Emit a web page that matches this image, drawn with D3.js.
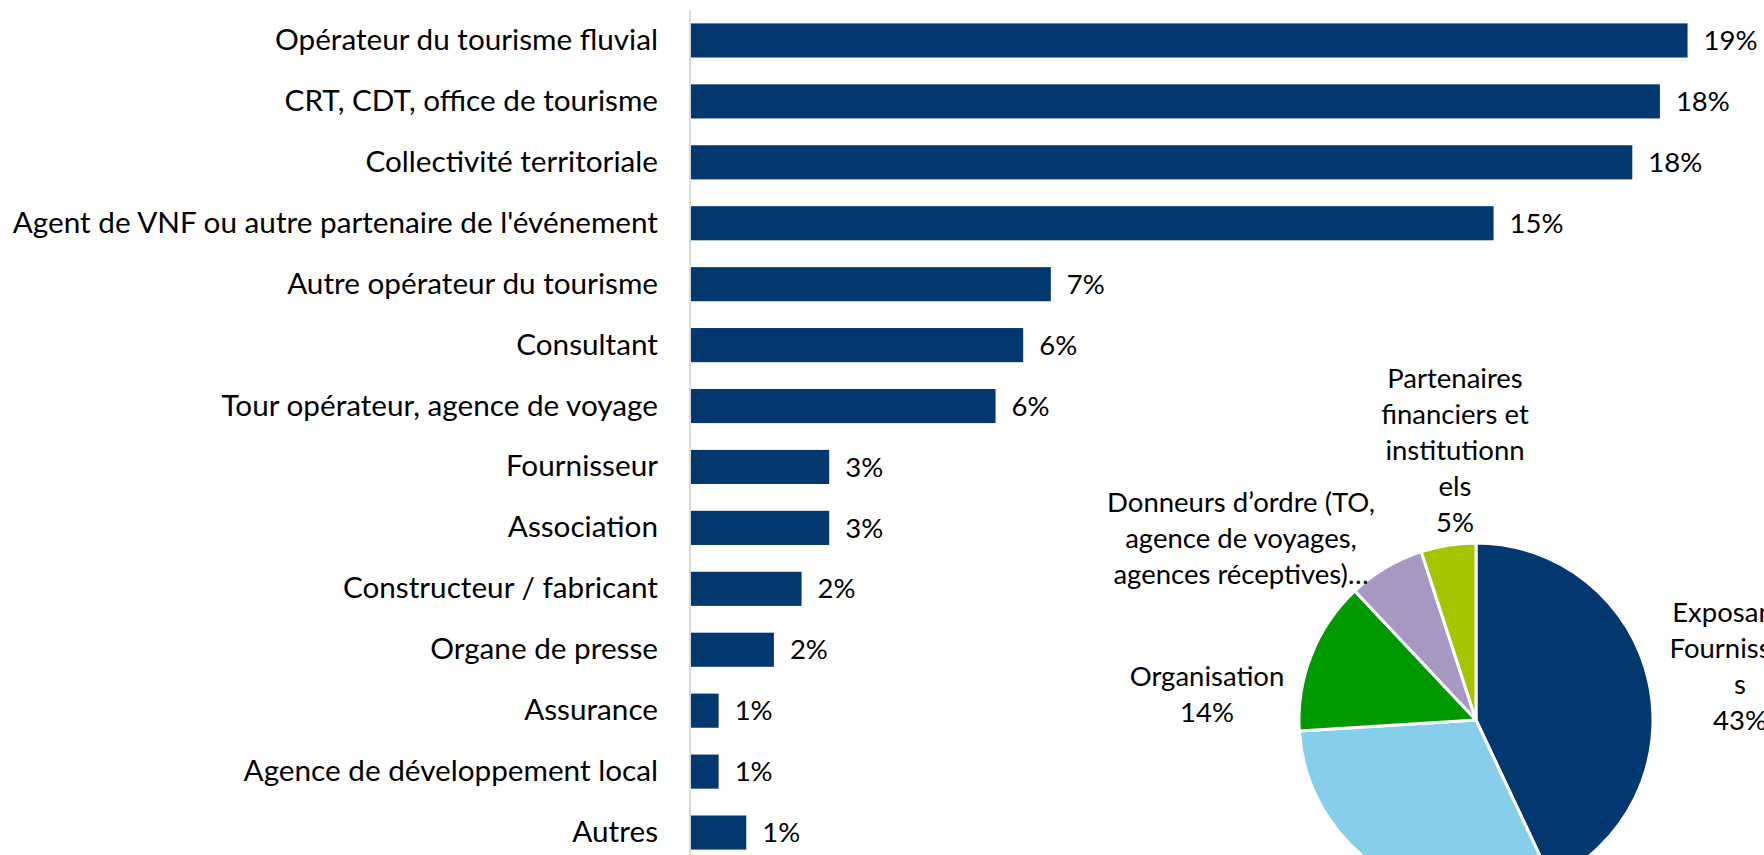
<!DOCTYPE html>
<html>
<head>
<meta charset="utf-8">
<script src="https://cdn.jsdelivr.net/npm/d3@7/dist/d3.min.js"></script>
<style>
  body { margin: 0; background: #fff; }
  svg { display: block; }
  text { font-family: Lato, "Open Sans", sans-serif; fill: #000; }
</style>
</head>
<body>
<svg id="chart" width="1764" height="855"></svg>
<script>
// Profil des répondants (barres) + répartition par type (camembert)

const barCategories = [
  "Opérateur du tourisme fluvial",
  "CRT, CDT, office de tourisme",
  "Collectivité territoriale",
  "Agent de VNF ou autre partenaire de l'événement",
  "Autre opérateur du tourisme",
  "Consultant",
  "Tour opérateur, agence de voyage",
  "Fournisseur",
  "Association",
  "Constructeur / fabricant",
  "Organe de presse",
  "Assurance",
  "Agence de développement local",
  "Autres"
];
const barValues = [18.75, 18.23, 17.71, 15.10, 6.77, 6.25, 5.73, 2.60, 2.60, 2.08, 1.56, 0.52, 0.52, 1.04];

const pieCategories = [
  "Exposants/Fournisseurs",
  "Visiteurs",
  "Organisation",
  "Donneurs d’ordre (TO, agence de voyages, agences réceptives)…",
  "Partenaires financiers et institutionnels"
];
const pieValues = [43, 31, 14, 7, 5];
const pieColors = ["#03376f", "#87ceeb", "#009900", "#a898c4", "#a6c400"];
// label text as wrapped in the original (null = label outside the frame)
const pieLabelLines = [
  ["Exposants/", "Fournisseur", "s", "43%"],
  null,
  ["Organisation", "14%"],
  ["Donneurs d’ordre (TO,", "agence de voyages,", "agences réceptives)…"],
  ["Partenaires", "financiers et", "institutionn", "els", "5%"]
];

const CAT_FONT = 29.7;
const FONT = 27.5;
const svg = d3.select("#chart");

// ---- bar chart ----
const x = d3.scaleLinear().domain([0, 20]).range([691, 1754]);
const y = d3.scaleBand()
  .domain(barCategories)
  .range([10, 863])
  .paddingInner(0.44)
  .paddingOuter(0.22);

svg.append("g")
  .selectAll("rect")
  .data(barValues)
  .join("rect")
  .attr("x", x(0))
  .attr("y", (d, i) => y(barCategories[i]))
  .attr("width", d => x(d) - x(0))
  .attr("height", y.bandwidth())
  .attr("fill", "#03376f");

const yAxis = svg.append("g")
  .attr("transform", "translate(690,0)")
  .call(d3.axisLeft(y).tickSize(0).tickPadding(32));
yAxis.select(".domain")
  .attr("stroke", "#d9d9d9")
  .attr("stroke-width", 2)
  .attr("d", "M0,10V855");
yAxis.selectAll("text")
  .style("font-size", CAT_FONT + "px")
  .style("font-family", "Lato, sans-serif")
  .attr("fill", "#000");

svg.append("g")
  .selectAll("text")
  .data(barValues)
  .join("text")
  .attr("x", d => x(d) + 16)
  .attr("y", (d, i) => y(barCategories[i]) + y.bandwidth() / 2)
  .attr("dy", "0.35em")
  .style("font-size", FONT + "px")
  .text(d => d3.format(".0f")(d) + "%");

// ---- pie ----
const cx = 1476, cy = 720, r = 177;
const pie = d3.pie().sort(null).value(d => d);
const arc = d3.arc().innerRadius(0).outerRadius(r);
const arcs = pie(pieValues);

const pg = svg.append("g").attr("transform", `translate(${cx},${cy})`);
pg.selectAll("path")
  .data(arcs)
  .join("path")
  .attr("d", arc)
  .attr("fill", (d, i) => pieColors[i])
  .attr("stroke", "#fff")
  .attr("stroke-width", 3)
  .attr("stroke-linejoin", "round");

// label block centres (Excel positioned them by hand)
const labelAnchors = [[1740, 666], null, [1207, 694], [1241, 538], [1455, 450]];
const lineH = 36;
pieLabelLines.forEach((lines, i) => {
  if (!lines) return;
  const [lx, ly] = labelAnchors[i];
  const t = svg.append("text")
    .attr("text-anchor", "middle")
    .style("font-size", FONT + "px");
  lines.forEach((s, k) => {
    t.append("tspan")
      .attr("x", lx)
      .attr("y", ly + (k - (lines.length - 1) / 2) * lineH)
      .attr("dy", "0.35em")
      .text(s);
  });
});
</script>
</body>
</html>
